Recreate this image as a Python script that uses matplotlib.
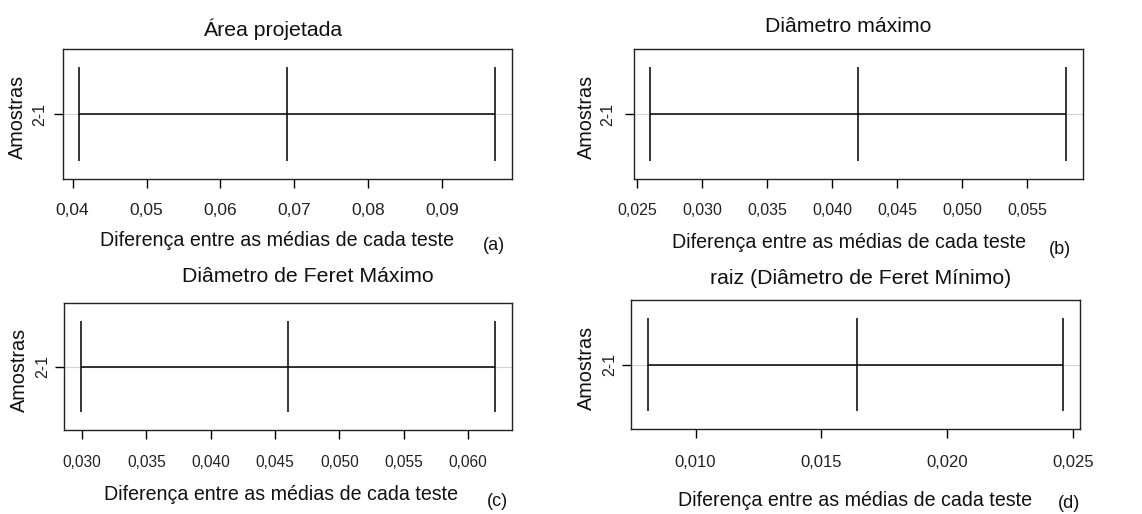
import numpy as np
import matplotlib.pyplot as plt
from matplotlib.ticker import FuncFormatter

plt.rcParams['font.family'] = ['Liberation Sans', 'DejaVu Sans']

# Tukey intervals for the 2-1 comparison of each measurement
titles = ['Área projetada', 'Diâmetro máximo',
          'Diâmetro de Feret Máximo', 'raiz (Diâmetro de Feret Mínimo)']
tags = ['(a)', '(b)', '(c)', '(d)']
comparison = '2-1'
lwr = [0.0409, 0.0260, 0.0299, 0.0081]
diff = [0.0690, 0.0420, 0.0460, 0.0164]
upr = [0.0972, 0.0580, 0.0621, 0.0246]
xticks = [
    [0.04, 0.05, 0.06, 0.07, 0.08, 0.09],
    [0.025, 0.030, 0.035, 0.040, 0.045, 0.050, 0.055],
    [0.030, 0.035, 0.040, 0.045, 0.050, 0.055, 0.060],
    [0.010, 0.015, 0.020, 0.025],
]
decimals = [2, 3, 3, 3]

W, H = 1142, 514
fig = plt.figure(figsize=(W / 100, H / 100), dpi=100)


def fx(px):
    return px / W


def fy(py):
    return 1 - py / H


# panel layout in pixels: box (left, top, right, bottom), text anchors
boxes = [(62.7, 49, 511.7, 179), (633.7, 49, 1082.7, 179),
         (64.3, 302.7, 511.7, 430.3), (631, 300.3, 1080, 429.3)]
title_xy = [(273, 29), (848, 27), (308, 277), (861, 279)]
xlab_xy = [(277, 241), (849, 242), (281, 495), (855, 501)]
tag_xy = [(494, 245), (1060, 250), (497, 501), (1069, 503)]
ylab_x = [17, 586, 19, 586]
ytick_x = [40, 608, 43, 610]
tick_fs = [12.5, 11.5, 11.2, 12]
label_pad = [22, 22, 23, 24]

for i in range(4):
    l, t, r, b = boxes[i]
    ax = fig.add_axes([fx(l), fy(b), (r - l) / W, (b - t) / H])
    y = 0.5
    ax.axhline(y, color='lightgray', lw=0.8, zorder=1)
    ax.hlines(y, lwr[i], upr[i], color='black', lw=1.1, zorder=2)
    ax.vlines([lwr[i], diff[i], upr[i]], y - 0.36, y + 0.36,
              color='black', lw=1.1, zorder=2)
    ax.set_ylim(0, 1)
    ax.margins(x=0.04)
    ax.set_xticks(xticks[i])
    d = decimals[i]
    ax.xaxis.set_major_formatter(
        FuncFormatter(lambda v, pos, d=d: f'{v:.{d}f}'.replace('.', ',')))
    ax.tick_params(axis='x', length=6.5, width=1, labelsize=tick_fs[i],
                   pad=label_pad[i] * 0.72, labelcolor='#222222')
    for lab in ax.get_xticklabels():
        lab.set_va('center')
    ax.set_yticks([y])
    ax.set_yticklabels([])
    ax.tick_params(axis='y', length=6.5, width=1)
    for sp in ax.spines.values():
        sp.set_linewidth(1)
        sp.set_color('#222222')

    # comparison name and y axis name, both rotated
    fig.text(fx(ytick_x[i]), fy((t + b) / 2), comparison, rotation=90,
             ha='center', va='center', fontsize=11.5, color='#222222')
    fig.text(fx(ylab_x[i]), fy((t + b) / 2 + 3), 'Amostras', rotation=90,
             ha='center', va='center', fontsize=14.3, color='#111111')

    fig.text(fx(title_xy[i][0]), fy(title_xy[i][1]), titles[i],
             ha='center', va='center', fontsize=15.3, color='#111111')
    fig.text(fx(xlab_xy[i][0]), fy(xlab_xy[i][1]),
             'Diferença entre as médias de cada teste',
             ha='center', va='center', fontsize=14.1, color='#111111')
    fig.text(fx(tag_xy[i][0]), fy(tag_xy[i][1]), tags[i],
             ha='center', va='center', fontsize=13, color='#111111')

fig.savefig('out.png', dpi=100)
